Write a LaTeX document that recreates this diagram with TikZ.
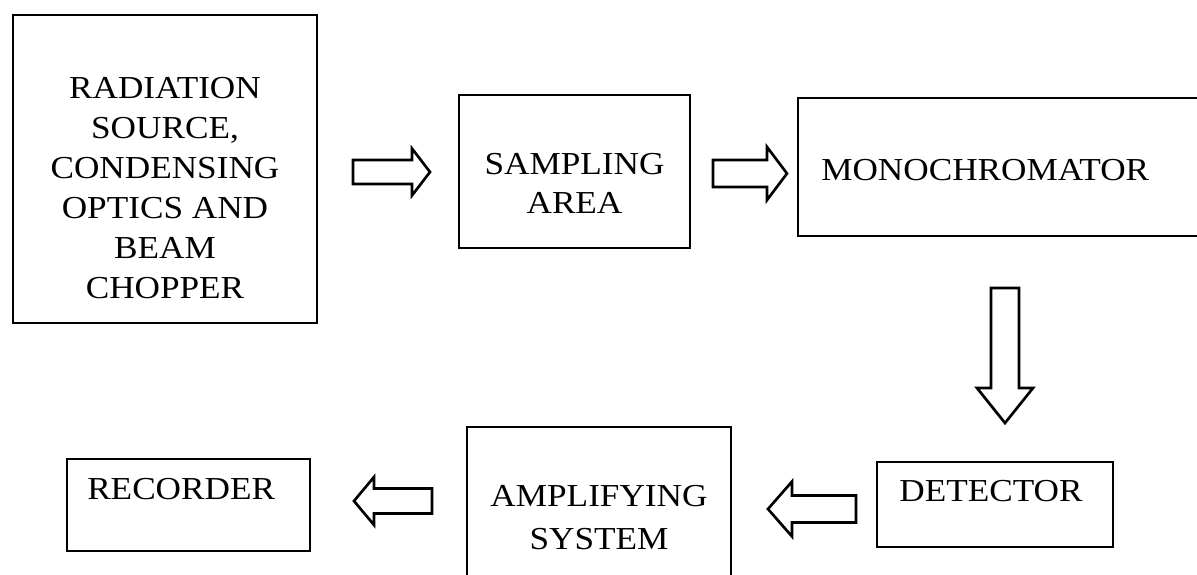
\documentclass[tikz,border=0pt]{standalone}
\usepackage{fontspec}
\setmainfont{Liberation Serif}[FakeStretch=1.1]
\usetikzlibrary{calc,fit}
\tikzset{
  box/.style={draw, line width=2pt, inner sep=0pt},
  lbl/.style={inner sep=0pt, align=center, font=\fontsize{24pt}{30pt}\selectfont},
  fat/.style={draw, line width=2pt, line join=miter, fill=white}
}
% #1 tail, #2 tip, #3 shaft half width, #4 head half width, #5 head length
\newcommand\blockarrow[5]{%
  \coordinate (#1-base) at ($(#2)!#5!(#1)$);
  \draw[fat] ($(#1)!#3!90:(#2)$) -- ($(#1-base)!#3!90:(#2)$) -- ($(#1-base)!#4!90:(#2)$)
    -- (#2) -- ($(#1-base)!#4!-90:(#2)$) -- ($(#1-base)!#3!-90:(#2)$) -- ($(#1)!#3!-90:(#2)$) -- cycle;
}
\begin{document}
\begin{tikzpicture}[x=0.75pt,y=-0.75pt]
\useasboundingbox (0,0) rectangle (1197,575);
\fill[white] (0,0) rectangle (1197,575);
\clip (0,0) rectangle (1197,575);

% boxes
\node[box, fit={(13,15) (317,323)}] (src) {};
\node[box, fit={(459,95) (690,248)}] (samp) {};
\node[box, fit={(798,98) (1212,236)}] (mono) {};
\node[box, fit={(877,462) (1113,547)}] (det) {};
\node[box, fit={(467,427) (731,592)}] (amp) {};
\node[box, fit={(67,459) (310,551)}] (rec) {};

% labels
\node[lbl, anchor=north] (srcT) at (165,77) {RADIATION\\SOURCE,\\CONDENSING\\OPTICS AND\\BEAM\\CHOPPER};
\node[lbl, anchor=north, font=\fontsize{24pt}{29pt}\selectfont] (sampT) at (574.5,153) {SAMPLING\\AREA};
\node[lbl, anchor=north west] (monoT) at (821,159) {MONOCHROMATOR};
\node[lbl, anchor=north] (detT) at (991,480) {DETECTOR};
\node[lbl, anchor=north, font=\fontsize{24pt}{32pt}\selectfont] (ampT) at (599,485) {AMPLIFYING\\SYSTEM};
\node[lbl, anchor=north west] (recT) at (87,478) {RECORDER};

% connector end points
\coordinate (a1t) at (353,172);  \coordinate (a1h) at (430,172);
\coordinate (a2t) at (713,173.5);\coordinate (a2h) at (787,173.5);
\coordinate (a3t) at (1005,288); \coordinate (a3h) at (1005,423);
\coordinate (a4t) at (856,509);  \coordinate (a4h) at (768,509);
\coordinate (a5t) at (432,501);  \coordinate (a5h) at (354,501);

\blockarrow{a1t}{a1h}{9pt}{17.6pt}{13.5pt}
\blockarrow{a2t}{a2h}{10.1pt}{19.9pt}{15pt}
\blockarrow{a3t}{a3h}{10.5pt}{21pt}{26.25pt}
\blockarrow{a4t}{a4h}{10.1pt}{20.6pt}{18pt}
\blockarrow{a5t}{a5h}{9.4pt}{18pt}{15pt}
\end{tikzpicture}
\end{document}
